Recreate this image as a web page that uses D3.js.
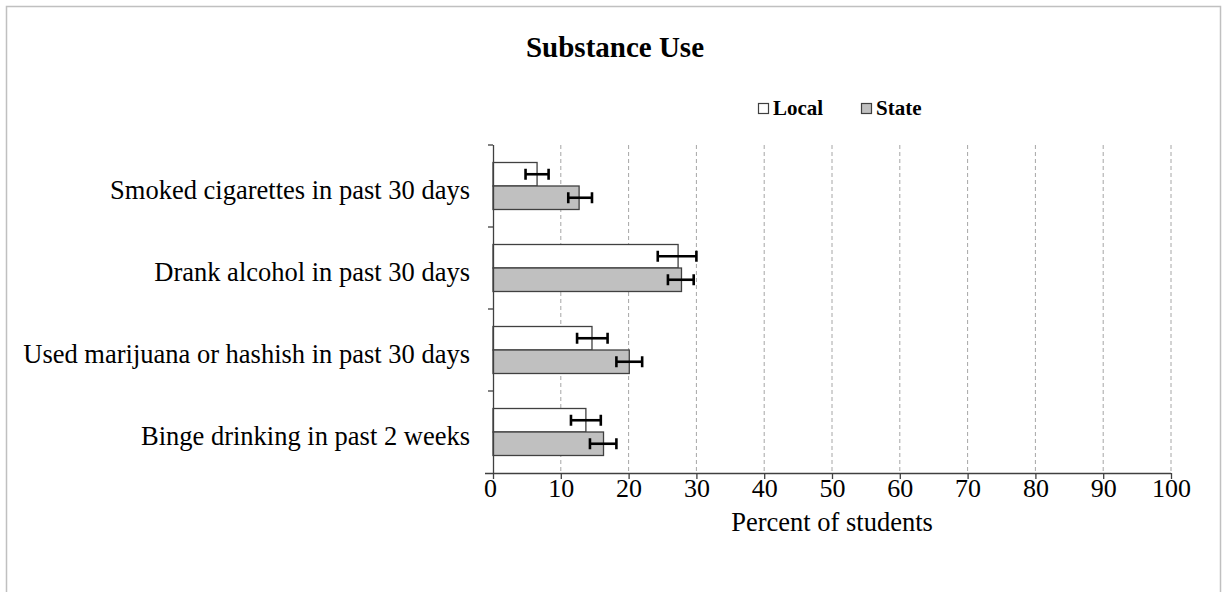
<!DOCTYPE html>
<html>
<head>
<meta charset="utf-8">
<script src="https://cdn.jsdelivr.net/npm/d3@7"></script>
<style>
    body { margin: 0; background: #fff; }
    text { font-family: "Liberation Serif", "Times New Roman", serif; fill: #000; }
</style>
</head>
<body>
<div id="chart"></div>
<script>
// chart data
var categories = [
    "Smoked cigarettes in past 30 days",
    "Drank alcohol in past 30 days",
    "Used marijuana or hashish in past 30 days",
    "Binge drinking in past 2 weeks"
];
var seriesNames = ["Local", "State"];
var localValues = [6.5, 27.3, 14.6, 13.7];
var localLow = [4.8, 24.3, 12.4, 11.5];
var localHigh = [8.2, 30.0, 16.9, 15.9];
var stateValues = [12.7, 27.8, 20.1, 16.3];
var stateLow = [11.1, 25.8, 18.2, 14.3];
var stateHigh = [14.6, 29.6, 22.0, 18.2];
var xTicks = [0, 10, 20, 30, 40, 50, 60, 70, 80, 90, 100];

var colors = { Local: "#ffffff", State: "#c0c0c0" };

// plot area
var plot = { left: 493, right: 1171, top: 145, bottom: 473 };

var svg = d3.select("#chart")
    .append("svg")
    .attr("width", 1225)
    .attr("height", 592);

// outer frame
svg.append("rect")
    .attr("x", 6.5)
    .attr("y", 6.5)
    .attr("width", 1214)
    .attr("height", 620)
    .attr("fill", "none")
    .attr("stroke", "#c0c0c0")
    .attr("stroke-width", 1.5);

// scales
var xScale = d3.scaleLinear()
    .domain([0, 100])
    .range([plot.left, plot.right]);

var yScale = d3.scaleBand()
    .domain(categories)
    .range([plot.top, plot.bottom]);

var ySub = d3.scaleBand()
    .domain(seriesNames)
    .range([0, yScale.bandwidth()])
    .paddingOuter(0.745);

// build rows from the arrays
var rows = [];
categories.forEach(function(c, i) {
    rows.push({ cat: c, series: "Local", value: localValues[i], low: localLow[i], high: localHigh[i] });
    rows.push({ cat: c, series: "State", value: stateValues[i], low: stateLow[i], high: stateHigh[i] });
});

// dashed gridlines
svg.append("g")
    .selectAll("line")
    .data(xTicks.slice(1))
    .enter()
    .append("line")
    .attr("x1", d => xScale(d))
    .attr("x2", d => xScale(d))
    .attr("y1", plot.top)
    .attr("y2", plot.bottom)
    .attr("stroke", "#a6a6a6")
    .attr("stroke-width", 1)
    .attr("stroke-dasharray", "4,3");

// bars
svg.append("g")
    .selectAll("rect")
    .data(rows)
    .enter()
    .append("rect")
    .attr("x", xScale(0))
    .attr("y", d => yScale(d.cat) + ySub(d.series))
    .attr("width", d => xScale(d.value) - xScale(0))
    .attr("height", ySub.bandwidth())
    .attr("fill", d => colors[d.series])
    .attr("stroke", "#404040")
    .attr("stroke-width", 1.3);

// error bars
var err = svg.append("g")
    .attr("stroke", "#000")
    .attr("stroke-width", 2.6);

err.selectAll(".errLine")
    .data(rows)
    .enter()
    .append("line")
    .attr("x1", d => xScale(d.low))
    .attr("x2", d => xScale(d.high))
    .attr("y1", d => yScale(d.cat) + ySub(d.series) + ySub.bandwidth() / 2)
    .attr("y2", d => yScale(d.cat) + ySub(d.series) + ySub.bandwidth() / 2);

["low", "high"].forEach(function(k) {
    err.selectAll(".cap" + k)
        .data(rows)
        .enter()
        .append("line")
        .attr("x1", d => xScale(d[k]))
        .attr("x2", d => xScale(d[k]))
        .attr("y1", d => yScale(d.cat) + ySub(d.series) + ySub.bandwidth() / 2 - 5.5)
        .attr("y2", d => yScale(d.cat) + ySub(d.series) + ySub.bandwidth() / 2 + 5.5);
});

// x axis
var xAxis = svg.append("g")
    .attr("transform", "translate(0," + plot.bottom + ")")
    .call(d3.axisBottom(xScale).tickValues(xTicks).tickSize(6).tickPadding(6).tickSizeOuter(0));

xAxis.select(".domain")
    .attr("d", "M" + (plot.left - 8) + ",0.5H" + plot.right)
    .attr("stroke", "#404040")
    .attr("stroke-width", 1.3);
xAxis.selectAll(".tick line").attr("stroke", "#404040").attr("stroke-width", 1.3);
xAxis.selectAll(".tick text")
    .style("font-family", "Liberation Serif")
    .style("font-size", "26px")
    .attr("x", d => d === 0 ? -3 : 0)
    .attr("dy", "0.47em");

// y axis with ticks between categories
var yAxis = svg.append("g")
    .attr("transform", "translate(" + plot.left + ",0)");

yAxis.append("line")
    .attr("x1", 0.5).attr("x2", 0.5)
    .attr("y1", plot.top).attr("y2", plot.bottom)
    .attr("stroke", "#404040")
    .attr("stroke-width", 1.3);

yAxis.selectAll(".ytick")
    .data(categories)
    .enter()
    .append("line")
    .attr("x1", -5).attr("x2", 0)
    .attr("y1", d => yScale(d))
    .attr("y2", d => yScale(d))
    .attr("stroke", "#404040")
    .attr("stroke-width", 1.3);

yAxis.selectAll(".ylabel")
    .data(categories)
    .enter()
    .append("text")
    .attr("x", -23)
    .attr("y", d => yScale(d) + yScale.bandwidth() / 2)
    .attr("dy", "0.5em")
    .attr("text-anchor", "end")
    .style("font-size", "26.5px")
    .text(d => d);

// axis title
svg.append("text")
    .attr("x", (plot.left + plot.right) / 2)
    .attr("y", 531)
    .attr("text-anchor", "middle")
    .style("font-size", "26.5px")
    .text("Percent of students");

// chart title
svg.append("text")
    .attr("x", 615)
    .attr("y", 57)
    .attr("text-anchor", "middle")
    .style("font-size", "29px")
    .style("font-weight", "bold")
    .text("Substance Use");

// legend
var legendX = [758, 861];
var legend = svg.append("g")
    .selectAll("g")
    .data(seriesNames)
    .enter()
    .append("g")
    .attr("transform", (d, i) => "translate(" + legendX[i] + ",103)");

legend.append("rect")
    .attr("x", 0.5).attr("y", 0.5)
    .attr("width", 10).attr("height", 10)
    .attr("fill", d => colors[d])
    .attr("stroke", "#404040")
    .attr("stroke-width", 1.2);

legend.append("text")
    .attr("x", 15)
    .attr("y", 12)
    .style("font-size", "21px")
    .style("font-weight", "bold")
    .text(d => d);
</script>
</body>
</html>
